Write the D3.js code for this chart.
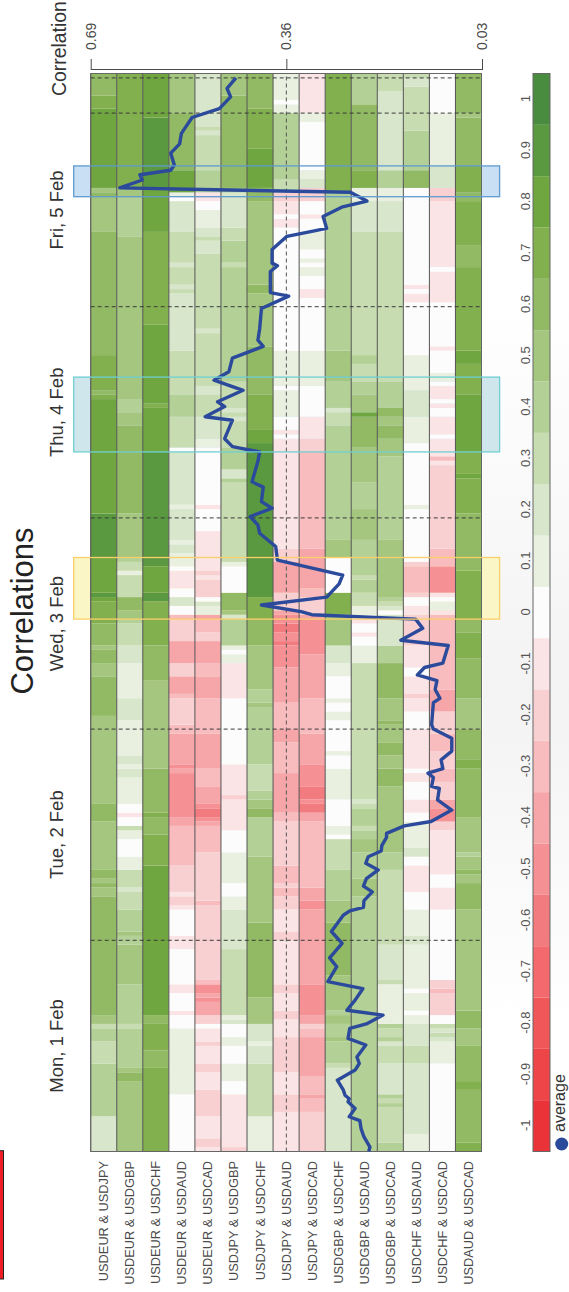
<!DOCTYPE html>
<html>
<head>
<meta charset="utf-8">
<script src="https://cdn.jsdelivr.net/npm/d3@7"></script>
<style>
  html, body { margin: 0; padding: 0; background: #fff; }
  svg { display: block; font-family: "Liberation Sans", Arial, sans-serif; }
  svg .tick text { font-family: "Liberation Sans", Arial, sans-serif; }
  svg .avg-axis .tick text { font-size: 14px; }
  svg .legend-axis .tick text { font-size: 13px; }
</style>
</head>
<body>
<div id="chart"></div>
<script>
// each series: [first half-hour slot, correlation] change points
const USDEUR_USDJPY = [[0,.2],[8,.4],[20,.3],[25,.4],[28,.3],[29,.5],[31,.6],[58,.5],[60,.6],[61,.5],[62,.6],[64,.5],[75,.6],[79,.5],[99,.6],[108,.5],[111,.6],[114,.5],[115,.6],[120,.7],[125,.8],[126,.9],[127,.8],[135,.9],[145,.8],[171,.7],[172,.6],[173,.7],[181,.6],[209,.5],[217,.6],[218,.5],[219,.8],[237,.7],[240,.6]];
const USDEUR_USDGBP = [[0,.5],[16,.6],[18,.5],[19,.4],[28,.3],[29,.4],[38,.5],[47,.4],[49,.5],[50,.4],[55,.3],[59,.2],[60,.3],[64,.1],[67,0],[71,.1],[73,.3],[74,0],[76,-.1],[77,0],[79,.1],[85,.2],[87,.1],[88,.2],[90,.1],[98,.2],[103,.1],[111,.2],[115,.3],[120,.4],[121,.5],[123,.6],[126,.3],[131,.1],[132,.3],[134,.4],[135,.5],[145,.6],[165,.5],[168,.4],[171,.5],[208,.4],[217,.5],[219,.7]];
const USDEUR_USDCHF = [[0,.7],[19,.6],[23,.7],[29,.6],[31,.8],[65,.7],[72,.6],[76,.7],[77,.6],[87,.5],[107,.6],[115,.7],[125,.9],[127,.8],[133,.9],[159,.8],[169,.7],[170,.8],[188,.7],[209,.8],[219,.9],[235,.8]];
const USDEUR_USDAUD = [[0,0],[13,.1],[28,0],[31,-.1],[32,0],[36,-.1],[38,0],[46,-.1],[49,0],[55,-.1],[56,-.2],[58,-.1],[59,-.2],[65,-.3],[74,-.4],[76,-.5],[86,-.4],[87,-.5],[88,-.4],[95,-.3],[97,-.2],[103,-.3],[104,-.4],[108,-.2],[111,-.4],[116,-.2],[121,-.3],[122,0],[124,.2],[126,0],[128,-.1],[132,0],[133,.1],[136,.2],[138,.1],[139,.2],[146,.1],[147,.2],[159,0],[160,.3],[167,.4],[172,.3],[182,.2],[195,.3],[196,.2],[197,.3],[201,.2],[202,.3],[209,.2],[216,0],[217,.1],[218,.8],[223,.6],[236,.5]];
const USDEUR_USDCAD = [[0,-.1],[1,-.2],[3,-.1],[8,-.2],[14,-.1],[18,-.2],[20,-.1],[24,-.2],[25,-.1],[28,0],[29,-.2],[31,-.4],[34,-.5],[35,-.4],[36,-.5],[38,-.3],[39,-.2],[56,-.3],[57,-.2],[68,-.3],[74,-.4],[75,-.5],[76,-.6],[78,-.5],[79,-.4],[83,-.3],[87,-.4],[95,-.3],[103,-.4],[108,-.3],[111,-.4],[116,-.2],[118,-.3],[121,-.4],[122,.1],[124,.2],[125,0],[126,-.2],[130,-.1],[131,-.2],[132,-.1],[141,0],[146,-.1],[147,0],[160,.1],[162,.2],[167,.3],[172,.2],[174,.3],[186,.2],[187,.3],[204,.2],[207,.3],[208,.2],[210,.1],[214,0],[216,-.1],[218,.4],[223,.3],[231,.2],[232,.3],[233,.2]];
const USDJPY_USDGBP = [[0,-.2],[1,-.1],[13,0],[16,.1],[20,0],[24,.1],[26,0],[29,.2],[30,.1],[31,.3],[46,.2],[55,.1],[58,0],[61,.1],[68,0],[73,-.1],[80,-.2],[81,-.1],[88,0],[103,-.1],[111,.1],[113,0],[114,.1],[115,.4],[121,.2],[122,.5],[123,.6],[127,0],[133,.1],[134,.3],[152,.4],[153,.2],[155,.4],[160,.3],[166,.2],[167,.3],[168,.2],[169,.3],[175,.4],[201,.3],[202,.4],[207,.3],[210,.2],[218,.5],[219,.6],[240,.5]];
const USDJPY_USDCHF = [[0,.1],[8,.3],[20,.2],[24,.1],[25,.2],[29,.5],[35,.6],[52,.5],[67,.4],[76,.6],[78,.5],[80,.4],[82,.3],[88,.4],[101,.5],[102,.4],[105,.5],[115,.6],[121,.7],[126,.9],[161,.8],[164,.7],[172,.6],[183,.5],[195,.6],[197,.5],[216,.6],[219,.8],[228,.7],[237,.6]];
const USDJPY_USDAUD = [[0,-.1],[9,-.2],[13,-.1],[18,-.2],[26,-.1],[30,-.2],[32,-.1],[36,-.2],[38,-.1],[48,-.2],[50,-.1],[55,-.2],[58,-.3],[60,-.2],[61,-.3],[65,-.2],[75,-.3],[77,-.4],[86,-.3],[93,-.4],[96,-.3],[102,-.4],[110,-.5],[115,-.6],[116,-.5],[118,-.6],[120,-.5],[122,-.4],[123,-.2],[127,-.4],[134,-.2],[137,-.1],[162,0],[163,-.1],[164,0],[167,.1],[173,0],[174,.1],[182,0],[210,-.1],[212,0],[213,-.1],[216,-.2],[218,.3],[221,.4],[236,.1],[238,0],[239,.1]];
const USDJPY_USDCAD = [[0,-.2],[9,-.3],[12,-.4],[13,-.3],[17,-.4],[26,-.3],[28,-.2],[29,-.4],[31,-.5],[38,-.4],[55,-.5],[57,-.4],[60,-.3],[75,-.4],[77,-.6],[79,-.5],[80,-.6],[83,-.5],[88,-.4],[95,-.3],[103,-.4],[113,-.5],[121,-.4],[122,-.2],[126,-.3],[128,-.4],[137,-.3],[159,-.2],[162,-.1],[167,0],[174,.1],[182,0],[194,-.1],[196,0],[199,.1],[201,0],[202,.1],[203,0],[205,.1],[209,0],[212,-.1],[213,0],[216,-.2],[219,.2],[221,.1],[223,0],[234,.1],[236,-.1]];
const USDGBP_USDCHF = [[0,.2],[19,.3],[20,.4],[25,.5],[26,.4],[29,.5],[31,.4],[32,.5],[40,.6],[52,.5],[57,.4],[64,.3],[71,0],[72,.1],[74,0],[80,.1],[87,0],[90,.1],[91,0],[98,.1],[100,0],[102,.1],[103,0],[108,.1],[111,.2],[115,.5],[122,.7],[127,0],[135,.5],[139,.4],[165,.3],[168,.2],[169,.4],[175,.5],[182,.4],[218,.7]];
const USDGBP_USDAUD = [[0,.4],[58,.5],[62,.4],[68,.5],[71,.4],[73,.3],[74,.4],[78,.3],[79,.2],[80,.3],[111,.1],[115,0],[117,-.1],[118,0],[120,-.1],[121,0],[122,.1],[124,.3],[127,.4],[130,.3],[131,.4],[139,.5],[146,.4],[152,.5],[160,.6],[167,.8],[168,.5],[172,.4],[175,.3],[179,.4],[181,.3],[209,.2],[216,.1],[219,.7],[223,.6],[238,.4]];
const USDGBP_USDCAD = [[0,.4],[2,.3],[10,.4],[11,.3],[12,.4],[13,.2],[20,.3],[24,.2],[25,.4],[26,.3],[28,.4],[29,.1],[38,.3],[39,.2],[47,.3],[64,.4],[68,.5],[83,.6],[87,.5],[90,.6],[93,.5],[97,.6],[98,.5],[103,.6],[111,.4],[115,.2],[122,0],[123,.2],[124,.3],[125,.4],[126,.5],[139,.4],[158,.5],[162,.6],[165,.5],[167,.6],[169,.4],[175,.3],[209,.2],[216,.1],[219,.4],[223,.2],[241,.3]];
const USDCHF_USDAUD = [[0,.1],[4,.2],[20,.3],[24,.2],[29,.1],[31,0],[32,.1],[36,0],[37,.1],[47,.2],[49,.1],[55,0],[59,-.1],[65,0],[67,.2],[69,.1],[75,0],[77,-.1],[80,0],[84,-.1],[86,0],[87,-.1],[96,0],[100,-.1],[103,-.2],[104,-.1],[108,0],[110,-.1],[115,-.2],[122,-.1],[124,0],[126,-.2],[127,-.3],[133,-.2],[134,0],[146,.1],[147,0],[161,.1],[167,.2],[173,.1],[181,0],[193,-.1],[195,0],[196,-.1],[197,0],[219,.6],[223,.4],[232,.3],[242,.2],[244,.3]];
const USDCHF_USDCAD = [[0,0],[20,.1],[25,.2],[26,.3],[27,.2],[28,.3],[29,0],[31,-.2],[36,-.3],[37,-.2],[39,0],[55,-.1],[60,0],[63,-.1],[73,-.2],[75,-.5],[78,-.4],[80,-.2],[84,-.3],[87,-.2],[91,-.3],[95,-.2],[100,-.4],[105,-.3],[122,-.1],[123,.1],[125,0],[126,-.1],[127,-.5],[133,-.3],[137,-.2],[156,-.1],[157,-.3],[158,-.1],[162,0],[163,-.1],[167,0],[169,-.1],[170,0],[171,-.1],[174,0],[175,.1],[177,0],[182,-.1],[183,0],[193,-.1],[200,0],[201,-.1],[216,-.2],[219,.2],[224,.1],[236,0]];
const USDAUD_USDCAD = [[0,.7],[2,.6],[14,.7],[16,.6],[24,.5],[28,.6],[32,.5],[55,.6],[61,.5],[63,.6],[64,.5],[67,.4],[68,.5],[76,.6],[87,.7],[89,.6],[96,.5],[103,.6],[112,.7],[118,.6],[121,.7],[132,.6],[145,.7],[153,.8],[154,.7],[159,.8],[172,.7],[179,.8],[182,.7],[201,.6],[206,.7],[216,.6],[218,.7],[224,.6],[235,.5],[236,.6]];

const pairs = ["USDEUR & USDJPY","USDEUR & USDGBP","USDEUR & USDCHF","USDEUR & USDAUD","USDEUR & USDCAD","USDJPY & USDGBP","USDJPY & USDCHF","USDJPY & USDAUD","USDJPY & USDCAD","USDGBP & USDCHF","USDGBP & USDAUD","USDGBP & USDCAD","USDCHF & USDAUD","USDCHF & USDCAD","USDAUD & USDCAD"];
const pairSeries = [USDEUR_USDJPY,USDEUR_USDGBP,USDEUR_USDCHF,USDEUR_USDAUD,USDEUR_USDCAD,USDJPY_USDGBP,USDJPY_USDCHF,USDJPY_USDAUD,USDJPY_USDCAD,USDGBP_USDCHF,USDGBP_USDAUD,USDGBP_USDCAD,USDCHF_USDAUD,USDCHF_USDCAD,USDAUD_USDCAD];

// average correlation line
const avgSlots = [0,1,3.3,5.2,7,7.9,9.8,11.3,12,12.8,14,16.2,18.5,20,21.5,24.2,25.7,28,29,31,32.1,34.4,37,38.6,42,44,47.3,50,53.7,54.7,55.5,57,59,60.3,62,64,65.5,67,68.3,69.5,71.4,72.3,74,75,77.6,79.9,82.5,83,85,86,87,89,91,93.9,96,97,102,103,105,107,108.3,110,111,115,116.2,118.9,121,122,122.7,124.2,126,129,131,134.4,137.5,140.5,142.4,144.3,146.2,147.7,151,152.2,156.8,159,160.2,162,166.2,167,169.3,170.4,173,175.3,177.2,180.3,183,184.4,187,191.6,194.4,195.2,200,201.3,201.9,205,208,209.8,212.5,214.7,216,218,219,220.8,222,223,224.2,226.9,229,231.4,235,237,239.7,241.6,244];
const avgValues = [.221,.219,.229,.234,.236,.254,.244,.256,.254,.261,.264,.274,.244,.237,.241,.226,.256,.253,.225,.197,.258,.244,.231,.29,.275,.287,.266,.284,.264,.253,.23,.229,.215,.23,.225,.205,.226,.222,.2,.199,.191,.191,.161,.116,.081,.105,.102,.115,.112,.121,.096,.099,.081,.081,.112,.115,.112,.101,.109,.106,.139,.127,.096,.087,.167,.13,.142,.317,.335,.402,.292,.271,.265,.375,.378,.405,.408,.421,.384,.402,.399,.418,.408,.405,.451,.464,.451,.497,.464,.476,.433,.482,.457,.451,.399,.408,.405,.402,.356,.387,.387,.375,.384,.384,.359,.292,.298,.265,.224,.252,.641,.603,.607,.555,.549,.555,.54,.537,.519,.473,.454,.46,.445];

const dayNames = ["Mon,  1 Feb","Tue,  2 Feb","Wed,  3 Feb","Thu,  4 Feb","Fri,  5 Feb"];
const daySlots = [24,72,120,168,214];
const midnightSlots = [48,96,144,192,236,244];
const sessionStarts = [121,159,217];
const sessionEnds = [135,176,224];
const avgTicks = [0.69,0.36,0.03];
const legendTicks = [-1,-0.9,-0.8,-0.7,-0.6,-0.5,-0.4,-0.3,-0.2,-0.1,0,0.1,0.2,0.3,0.4,0.5,0.6,0.7,0.8,0.9,1];
const binColors = ["#ea3338","#ee4548","#f05759","#f3696d","#f27b80","#f59194","#f6a5a8","#f8bcbe","#f9d0d2","#fae4e5","#fcfcfc","#e9f0e0","#d8e6cb","#c7dcb0","#b3d096","#a4c67f","#92b963","#83b04f","#6fa640","#5a993f","#4a8c3f"];

const slotCount = 245;
const pageW = 569, pageH = 1292;
const lineBlue = "#2b4a9b";
const inkColor = "#4a4a4a";

const svg = d3.select("#chart").append("svg").attr("width", pageW).attr("height", pageH);

// faint paper shading on the right
const grad = svg.append("defs").append("linearGradient").attr("id", "paper").attr("x1", 0).attr("x2", 0).attr("y1", 0).attr("y2", 1);
grad.append("stop").attr("offset", "0%").attr("stop-color", "#fff");
grad.append("stop").attr("offset", "55%").attr("stop-color", "#f3f3f3");
grad.append("stop").attr("offset", "100%").attr("stop-color", "#fff");
svg.append("rect").attr("x", 483).attr("y", 300).attr("width", 86).attr("height", 720).attr("fill", "url(#paper)");

// the chart was laid out landscape and then turned a quarter turn
const g = svg.append("g").attr("transform", `translate(0,${pageH}) rotate(-90)`);

const x = d3.scaleLinear().domain([0, slotCount]).range([140.5, 1218.5]);
const band = d3.scaleBand().domain(pairs).range([90.7, 481.5]);
const avgY = d3.scaleLinear().domain([0.69, 0.03]).range([90.7, 482]);
const color = d3.scaleQuantize().domain([-1.05, 1.05]).range(binColors);
const legendX = d3.scaleLinear().domain([-1.05, 1.05]).range([140.5, 1218.5]);

// session boxes, fill goes behind the cells
const sessionFills = ["#faf6c6", "#cfe7ec", "#c9dff3"];
const sessionEdges = ["#fbcf6a", "#6fcfd2", "#5f9bd0"];
const boxTop = 73.7, boxBottom = 499.6;
g.selectAll(".box").data(sessionStarts).join("rect")
  .attr("class", "box")
  .attr("x", d => x(d))
  .attr("width", (d, i) => x(sessionEnds[i]) - x(d))
  .attr("y", boxTop)
  .attr("height", boxBottom - boxTop)
  .attr("fill", (d, i) => sessionFills[i]);

// heat cells
pairs.forEach((pair, i) => {
  const series = pairSeries[i];
  g.append("g").selectAll("rect").data(series).join("rect")
    .attr("x", d => x(d[0]))
    .attr("width", (d, j) => x(j + 1 < series.length ? series[j + 1][0] : slotCount) - x(d[0]))
    .attr("y", band(pair))
    .attr("height", band.bandwidth())
    .attr("fill", d => color(d[1]));
});

// column separators and frame
g.selectAll(".sep").data(pairs).join("line")
  .attr("class", "sep")
  .attr("x1", x(0)).attr("x2", x(slotCount))
  .attr("y1", d => band(d)).attr("y2", d => band(d))
  .attr("stroke", "#555");
g.append("rect")
  .attr("x", x(0)).attr("width", x(slotCount) - x(0))
  .attr("y", band.range()[0]).attr("height", band.range()[1] - band.range()[0])
  .attr("fill", "none").attr("stroke", "#666");

// midnight marks and the middle level
g.selectAll(".midnight").data(midnightSlots).join("line")
  .attr("class", "midnight")
  .attr("x1", d => x(d)).attr("x2", d => x(d))
  .attr("y1", band.range()[0]).attr("y2", band.range()[1])
  .attr("stroke", "#3a3a3a").attr("stroke-dasharray", "4,3");
g.append("line")
  .attr("x1", x(0)).attr("x2", x(slotCount))
  .attr("y1", avgY(0.36)).attr("y2", avgY(0.36))
  .attr("stroke", "#555").attr("stroke-dasharray", "4,3");

// average line
const avgLine = d3.line().x(d => x(d)).y((d, i) => avgY(avgValues[i]));
g.append("path")
  .attr("d", avgLine(avgSlots))
  .attr("fill", "none")
  .attr("stroke", lineBlue)
  .attr("stroke-width", 3.4)
  .attr("stroke-linejoin", "round");

// session box edges on top
g.selectAll(".edge").data(sessionStarts).join("rect")
  .attr("class", "edge")
  .attr("x", d => x(d))
  .attr("width", (d, i) => x(sessionEnds[i]) - x(d))
  .attr("y", boxTop)
  .attr("height", boxBottom - boxTop)
  .attr("fill", "none")
  .attr("stroke", (d, i) => sessionEdges[i])
  .attr("stroke-width", 1.3);

// correlation axis
const avgAxis = g.append("g")
  .attr("class", "avg-axis")
  .attr("transform", `translate(${pageH - 70},0)`)
  .call(d3.axisRight(avgY).tickValues(avgTicks).tickSize(11).tickSizeOuter(0).tickPadding(9).tickFormat(d3.format(".2f")));
avgAxis.selectAll("text").attr("fill", inkColor);
avgAxis.selectAll("line,path").attr("stroke", inkColor);

// pair labels
g.selectAll(".pair").data(pairs).join("text")
  .attr("class", "pair")
  .attr("x", pageH - 1161)
  .attr("y", d => band(d) + band.bandwidth() / 2)
  .attr("dy", "0.35em")
  .attr("text-anchor", "end")
  .attr("fill", inkColor)
  .style("font-size", "12.8px")
  .text(d => d);

// day labels
g.selectAll(".day").data(dayNames).join("text")
  .attr("class", "day")
  .attr("x", (d, i) => x(daySlots[i]))
  .attr("y", 63)
  .attr("text-anchor", "middle")
  .attr("fill", "#333")
  .style("font-size", "18.5px")
  .text(d => d);

g.append("text")
  .attr("x", pageH - 96).attr("y", 66)
  .attr("fill", "#333")
  .style("font-size", "19.4px")
  .text("Correlation");

g.append("text")
  .attr("x", pageH - 611).attr("y", 33)
  .attr("text-anchor", "middle")
  .attr("fill", "#222")
  .style("font-size", "31px")
  .text("Correlations");

// colour legend
g.append("g").selectAll("rect").data(binColors).join("rect")
  .attr("x", d => legendX(color.invertExtent(d)[0]))
  .attr("width", d => legendX(color.invertExtent(d)[1]) - legendX(color.invertExtent(d)[0]))
  .attr("y", 533)
  .attr("height", 17)
  .attr("fill", d => d);
g.append("rect")
  .attr("x", legendX(-1.05)).attr("width", legendX(1.05) - legendX(-1.05))
  .attr("y", 533).attr("height", 17)
  .attr("fill", "none").attr("stroke", "#666");

const legendAxis = g.append("g")
  .attr("class", "legend-axis")
  .attr("transform", "translate(0,533)")
  .call(d3.axisTop(legendX).tickValues(legendTicks).tickSize(0).tickPadding(3).tickFormat(d => String(d)));
legendAxis.select(".domain").remove();
legendAxis.selectAll("text").attr("fill", "#555");

// average key
g.append("circle").attr("cx", pageH - 1144).attr("cy", 561.7).attr("r", 6.5).attr("fill", lineBlue);
g.append("text").attr("x", pageH - 1132).attr("y", 564.5)
  .attr("fill", "#333").style("font-size", "16px").text("average");

// red bar at the edge of the page
g.append("rect")
  .attr("x", pageH - 1279).attr("width", 128.3)
  .attr("y", -2).attr("height", 5.5)
  .attr("fill", "#ee1c25").attr("stroke", "#222");
</script>
</body>
</html>
